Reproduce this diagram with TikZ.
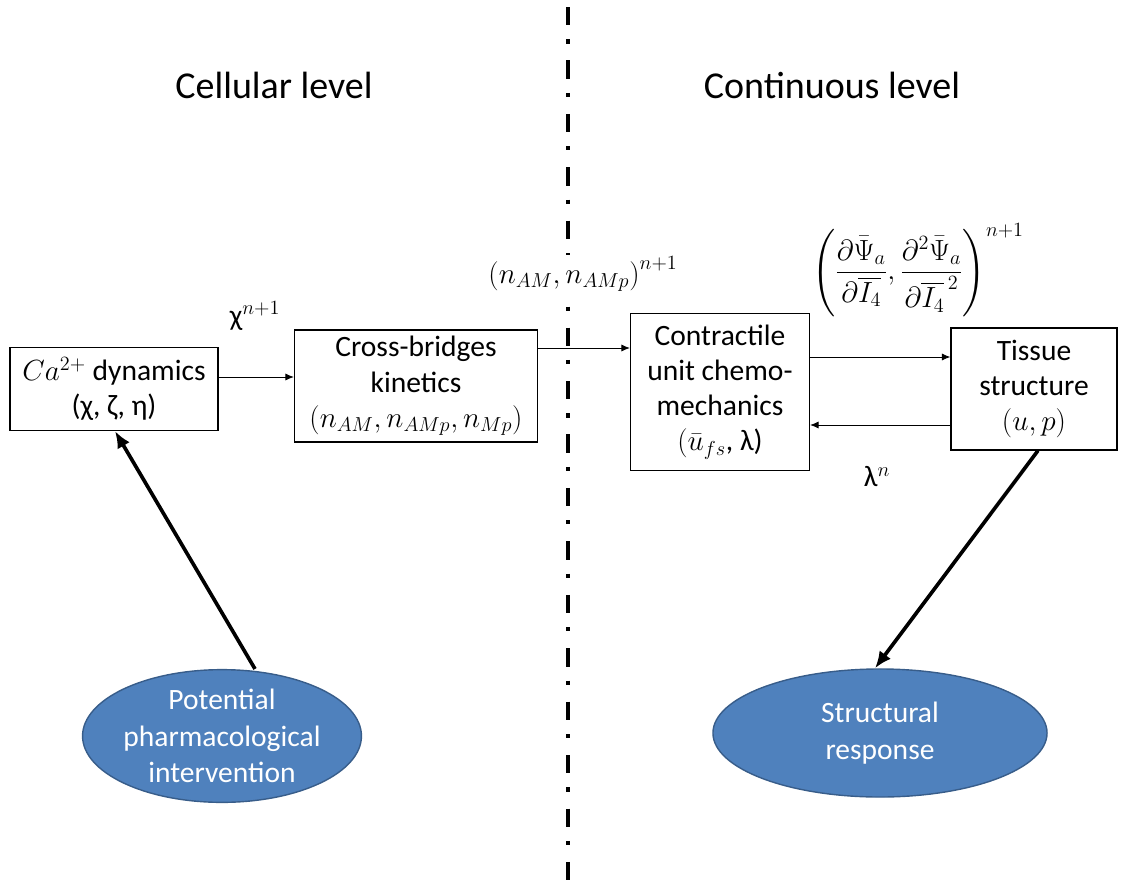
\documentclass[tikz,border=0pt]{standalone}
\usepackage{fontspec}
\setmainfont{Carlito}
\usepackage{amsmath}
\usetikzlibrary{arrows.meta}
\usetikzlibrary{shapes.geometric}
\definecolor{ovalblue}{HTML}{4F81BD}
\definecolor{ovaledge}{HTML}{385D8A}
\tikzset{basic box/.style={draw,line width=0.8pt,align=center,inner sep=2pt}}
\tikzset{flow/.style={draw,line width=0.6pt,-{Latex[length=6pt,width=5pt]}}}
\tikzset{heavy flow/.style={draw,line width=2.6pt,-{Latex[length=12pt,width=10pt]}}}

\begin{document}
\begin{tikzpicture}
    [
      x=0.025cm, y=-0.025cm,
      box/.style={basic box,font=\fontsize{21}{25}\selectfont},
      oval/.style={ellipse,fill=ovalblue,draw=ovaledge,line width=1pt,
        text=white,align=center,inner sep=0pt,font=\fontsize{21}{26}\selectfont},
      title/.style={font=\fontsize{27}{32}\selectfont},
      tag/.style={font=\fontsize{21}{25}\selectfont},
      divider/.style={line width=3.5pt,dash pattern=on 13pt off 10pt on 3pt off 12pt},
    ]
    \useasboundingbox (0,0) rectangle (1121,883);

    % separation between the two levels
    \coordinate (top) at (568,7);
    \coordinate (bottom) at (568,883);
    \draw [divider] (top) -- (bottom);

    \node [title] (cell) at (274,85) {Cellular level};
    \node [title] (cont) at (832,85) {Continuous level};

    % boxes
    \node [box,minimum width=5.2cm,minimum height=2.075cm] (ca) at (114,389)
      {$Ca^{2+}$ dynamics\\(χ, ζ, η)};
    \node [box,minimum width=6.075cm,minimum height=2.8cm] (cb) at (416,386)
      {Cross-bridges\\kinetics\\$(n_{AM}, n_{AMp}, n_{Mp})$};
    \node [box,minimum width=4.475cm,minimum height=3.925cm] (cu) at (720,392)
      {Contractile\\unit chemo-\\mechanics\\$(\bar{u}_{fs}$, λ)};
    \node [box,minimum width=4.15cm,minimum height=3.05cm] (ts) at (1034,389)
      {Tissue\\structure\\$(u, p)$};

    % ellipses
    \node [oval,minimum width=6.7cm,minimum height=3.3cm] (drug) at (222,736)
      {Potential\\pharmacological\\intervention};
    \node [oval,minimum width=8.35cm,minimum height=3.2cm] (resp) at (880,733)
      {Structural\\response};

    % exchanged quantities
    \node [tag] (chi) at (255,316) {χ$^{n+1}$};
    \node [tag,fill=white,inner sep=1pt] (nam) at (583,274) {$\left(n_{AM}, n_{AMp}\right)^{n+1}$};
    \node [tag] (psi) at (918,270)
      {$\left(\dfrac{\partial\bar{\Psi}_a}{\partial\overline{I_4}},\dfrac{\partial^2\bar{\Psi}_a}{\partial\overline{I_4}^{\,2}}\right)^{n+1}$};
    \node [tag] (lam) at (877,477) {λ$^{n}$};

    % arrows
    \draw [flow] (ca.east |- 0,377) -- (cb.west |- 0,377);
    \draw [flow] (cb.east |- 0,348) -- (cu.west |- 0,348);
    \draw [flow] (cu.east |- 0,357) -- (ts.west |- 0,357);
    \draw [flow] (ts.west |- 0,425) -- (cu.east |- 0,425);
    \draw [heavy flow] (drug.north -| 255,0) -- (ca.south -| 115,0);
    \draw [heavy flow] (ts.south -| 1038,0) -- (resp.north -| 875,0);

  \end{tikzpicture}
\end{document}
